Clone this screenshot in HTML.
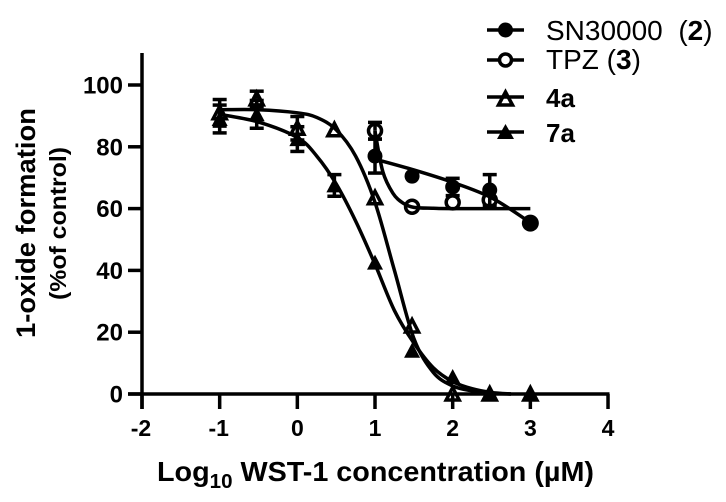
<!DOCTYPE html>
<html lang="en">
<head>
<meta charset="utf-8">
<title>1-oxide formation chart</title>
<style>
html,body{margin:0;padding:0;background:#fff;width:726px;height:502px;overflow:hidden}
svg{display:block}
text{font-family:"Liberation Sans",Arial,sans-serif;fill:#000}
</style>
</head>
<body>
<svg id="chart" width="726" height="502" viewBox="0 0 726 502" xmlns="http://www.w3.org/2000/svg">
  <g id="curves"></g>
  <g id="axes"></g>
  <g id="marks"></g>

  <text transform="translate(35,223) rotate(-90)" text-anchor="middle" font-size="27" font-weight="700" textLength="230" lengthAdjust="spacingAndGlyphs">1-oxide formation</text>
  <text transform="translate(66,223.500) rotate(-90)" text-anchor="middle" font-size="23" font-weight="700" textLength="153" lengthAdjust="spacingAndGlyphs">(%of control)</text>
  <text x="157" y="481" font-size="28" font-weight="700" textLength="437" lengthAdjust="spacingAndGlyphs">Log<tspan font-size="20" dy="7">10</tspan><tspan dy="-7"> WST-1 concentration (µM)</tspan></text>

  <g>
    <g>
      <line x1="487" x2="524" y1="30" y2="30" stroke="#000" stroke-width="3.5"></line>
      <circle cx="505.500" cy="30" r="7.500" fill="#000"></circle>
      <text x="546" y="40" font-size="28">SN30000&#160;&#160;(<tspan font-weight="700">2</tspan>)</text>
    </g>
    <g>
      <line x1="487" x2="524" y1="60" y2="60" stroke="#000" stroke-width="3.5"></line>
      <circle cx="505.500" cy="60" r="6" fill="#fff" stroke="#000" stroke-width="3.500"></circle>
      <text x="546" y="69" font-size="28">TPZ (<tspan font-weight="700">3</tspan>)</text>
    </g>
    <g>
      <line x1="487" x2="524" y1="97" y2="97" stroke="#000" stroke-width="3.5"></line>
      <polygon points="505.500,92 512.500,105 498.500,105" fill="none" stroke="#000" stroke-width="3.500"></polygon>
      <text x="546" y="107" font-size="26" font-weight="700">4a</text>
    </g>
    <g>
      <line x1="487" x2="524" y1="132" y2="132" stroke="#000" stroke-width="3.5"></line>
      <polygon points="505.500,124 514,139 497,139" fill="#000"></polygon>
      <text x="546" y="142" font-size="26" font-weight="700">7a</text>
    </g>
  </g>
</svg>
<script>
// Axis ticks
const xTicks = [-2, -1, 0, 1, 2, 3, 4];
const yTicks = [0, 20, 40, 60, 80, 100];

// Measured points: log10 concentration, mean value, upper and lower error
const sn30000X = [1, 1.477, 2, 2.477, 3];
const sn30000Y = [77, 70.5, 67, 66, 55.3];
const sn30000ErrUp = [5.5, 0, 2.8, 5, 0];
const sn30000ErrDown = [5.5, 0, 2.8, 5, 0];

const tpzX = [1, 1.477, 2, 2.477];
const tpzY = [85.2, 60.6, 62, 62.8];
const tpzErrUp = [2.7, 0, 0, 0];
const tpzErrDown = [2.7, 0, 0, 0];

const a4X = [-1, -0.523, 0, 0.477, 1, 1.477, 2, 2.477, 3];
const a4Y = [91, 95.5, 86, 85.5, 63.5, 22, 0, 0, 0];
const a4ErrUp = [4.3, 2.5, 3.8, 0, 0, 0, 0, 0, 0];
const a4ErrDown = [4.3, 2.5, 3.8, 0, 0, 0, 0, 0, 0];

const a7X = [-1, -0.523, 0, 0.477, 1, 1.477, 2, 2.477, 3];
const a7Y = [89, 90.5, 82.5, 67.5, 42.5, 14, 5.5, 0, 0];
const a7ErrUp = [4.5, 4.5, 4, 3.5, 0, 0, 0, 0, 0];
const a7ErrDown = [4.5, 4.5, 4, 3.5, 0, 0, 0, 0, 0];

// Fitted curves
const snCurveX = [1, 1.5, 2, 2.5, 3];
const snCurveY = [76, 72.5, 68.5, 63.5, 55.5];

const tpzCurveX = [1, 1.1, 1.23, 1.36, 1.5, 1.75, 2, 3];
const tpzCurveY = [85, 72, 65, 61.8, 60.4, 60.1, 60, 60];

const a4CurveX = [-1, -0.5, 0, 0.25, 0.5, 0.75, 1, 1.25, 1.5, 1.75, 2, 2.25, 2.5, 2.75];
const a4CurveY = [92, 92, 91, 89.5, 85.5, 77, 62, 40, 18, 7, 2.6, 1, 0.3, 0];

const a7CurveX = [-1, -0.5, 0, 0.25, 0.5, 0.75, 1, 1.25, 1.5, 1.75, 2, 2.25, 2.5, 2.75];
const a7CurveY = [90.5, 88, 83, 77, 68, 56, 42, 27, 16.5, 8.5, 4, 1.7, 0.5, 0];

const SVG_NS = 'http://www.w3.org/2000/svg';
const X0 = 142, X_PER_UNIT = 77.67, Y0 = 394, Y_PER_UNIT = 3.09;
const LINE_W = 3.5;
const xScale = v => X0 + (v + 2) * X_PER_UNIT;
const yScale = v => Y0 - v * Y_PER_UNIT;

function mk(parent, tag, attrs) {
  const el = document.createElementNS(SVG_NS, tag);
  Object.keys(attrs).forEach(k => el.setAttribute(k, attrs[k]));
  parent.appendChild(el);
  return el;
}

function smoothPath(xs, ys) {
  const pts = xs.map((x, i) => [xScale(x), yScale(ys[i])]);
  let d = 'M' + pts[0][0] + ' ' + pts[0][1];
  for (let i = 0; i < pts.length - 1; i++) {
    const p0 = pts[Math.max(i - 1, 0)], p1 = pts[i], p2 = pts[i + 1], p3 = pts[Math.min(i + 2, pts.length - 1)];
    d += ' C' + (p1[0] + (p2[0] - p0[0]) / 6) + ' ' + (p1[1] + (p2[1] - p0[1]) / 6) +
         ' ' + (p2[0] - (p3[0] - p1[0]) / 6) + ' ' + (p2[1] - (p3[1] - p1[1]) / 6) +
         ' ' + p2[0] + ' ' + p2[1];
  }
  return d;
}

const axes = document.getElementById('axes');
const curves = document.getElementById('curves');
const marks = document.getElementById('marks');

// Axes
const yLine = mk(axes, 'line', {x1: X0, x2: X0, y1: 53, y2: Y0 + 15, stroke: '#000', 'stroke-width': LINE_W});


const xLine = mk(axes, 'line', {x1: X0 - 14, x2: xScale(4) + 1.5, y1: Y0, y2: Y0, stroke: '#000', 'stroke-width': LINE_W});



xTicks.forEach(t => {
  const tick = mk(axes, 'line', {x1: xScale(t), x2: xScale(t), y1: Y0, y2: Y0 + 15, stroke: '#000', 'stroke-width': LINE_W});
  
  
  const label = mk(axes, 'text', {x: xScale(t) - (t < 0 ? 1 : 0), y: Y0 + 42, 'text-anchor': 'middle', 'font-size': 23, 'font-weight': 700});
  label.textContent = String(t);
  
  
});

yTicks.forEach(t => {
  const tick = mk(axes, 'line', {x1: X0 - 14, x2: X0, y1: yScale(t), y2: yScale(t), stroke: '#000', 'stroke-width': LINE_W});
  
  
  const label = mk(axes, 'text', {x: X0 - 19, y: yScale(t) + 8.5, 'text-anchor': 'end', 'font-size': 24, 'font-weight': 700});
  label.textContent = String(t);
  
  
});

// Curves
function drawCurve(name, xs, ys) {
  const path = mk(curves, 'path', {d: smoothPath(xs, ys), fill: 'none', stroke: '#000', 'stroke-width': LINE_W});
  
  
}
drawCurve('curve-sn30000', snCurveX, snCurveY);
drawCurve('curve-tpz', tpzCurveX, tpzCurveY);
drawCurve('curve-4a', a4CurveX, a4CurveY);
drawCurve('curve-7a', a7CurveX, a7CurveY);

// Error bars
function drawErrors(name, xs, ys, ups, downs) {
  xs.forEach((x, i) => {
    const cx = xScale(x);
    [[ups[i], 1], [downs[i], -1]].forEach(pair => {
      if (!pair[0]) return;
      const end = yScale(ys[i] + pair[0] * pair[1]);
      const stem = mk(marks, 'line', {x1: cx, x2: cx, y1: yScale(ys[i]), y2: end, stroke: '#000', 'stroke-width': LINE_W});
      
      
      const cap = mk(marks, 'line', {x1: cx - 7, x2: cx + 7, y1: end, y2: end, stroke: '#000', 'stroke-width': LINE_W});
      
      
    });
  });
}
drawErrors('sn30000', sn30000X, sn30000Y, sn30000ErrUp, sn30000ErrDown);
drawErrors('tpz', tpzX, tpzY, tpzErrUp, tpzErrDown);
drawErrors('4a', a4X, a4Y, a4ErrUp, a4ErrDown);
drawErrors('7a', a7X, a7Y, a7ErrUp, a7ErrDown);

// Markers
function triangle(cx, cy, half, up, down) {
  return cx + ',' + (cy - up) + ' ' + (cx + half) + ',' + (cy + down) + ' ' + (cx - half) + ',' + (cy + down);
}
tpzX.forEach((x, i) => {
  const m = mk(marks, 'circle', {cx: xScale(x), cy: yScale(tpzY[i]), r: 6.5, fill: 'none', stroke: '#000', 'stroke-width': LINE_W});
  
  
});
sn30000X.forEach((x, i) => {
  const m = mk(marks, 'circle', {cx: xScale(x), cy: yScale(sn30000Y[i]), r: i === sn30000X.length - 1 ? 8.5 : 7.5, fill: '#000'});
  
  
});
a4X.forEach((x, i) => {
  const m = mk(marks, 'polygon', {points: triangle(xScale(x), yScale(a4Y[i]), 6.5, 6.5, 6), fill: 'none', stroke: '#000', 'stroke-width': LINE_W});
  
  
});
a7X.forEach((x, i) => {
  const m = mk(marks, 'polygon', {points: triangle(xScale(x), yScale(a7Y[i]), 8, 8, 7), fill: '#000'});
  
  
});
</script>
</body>
</html>
